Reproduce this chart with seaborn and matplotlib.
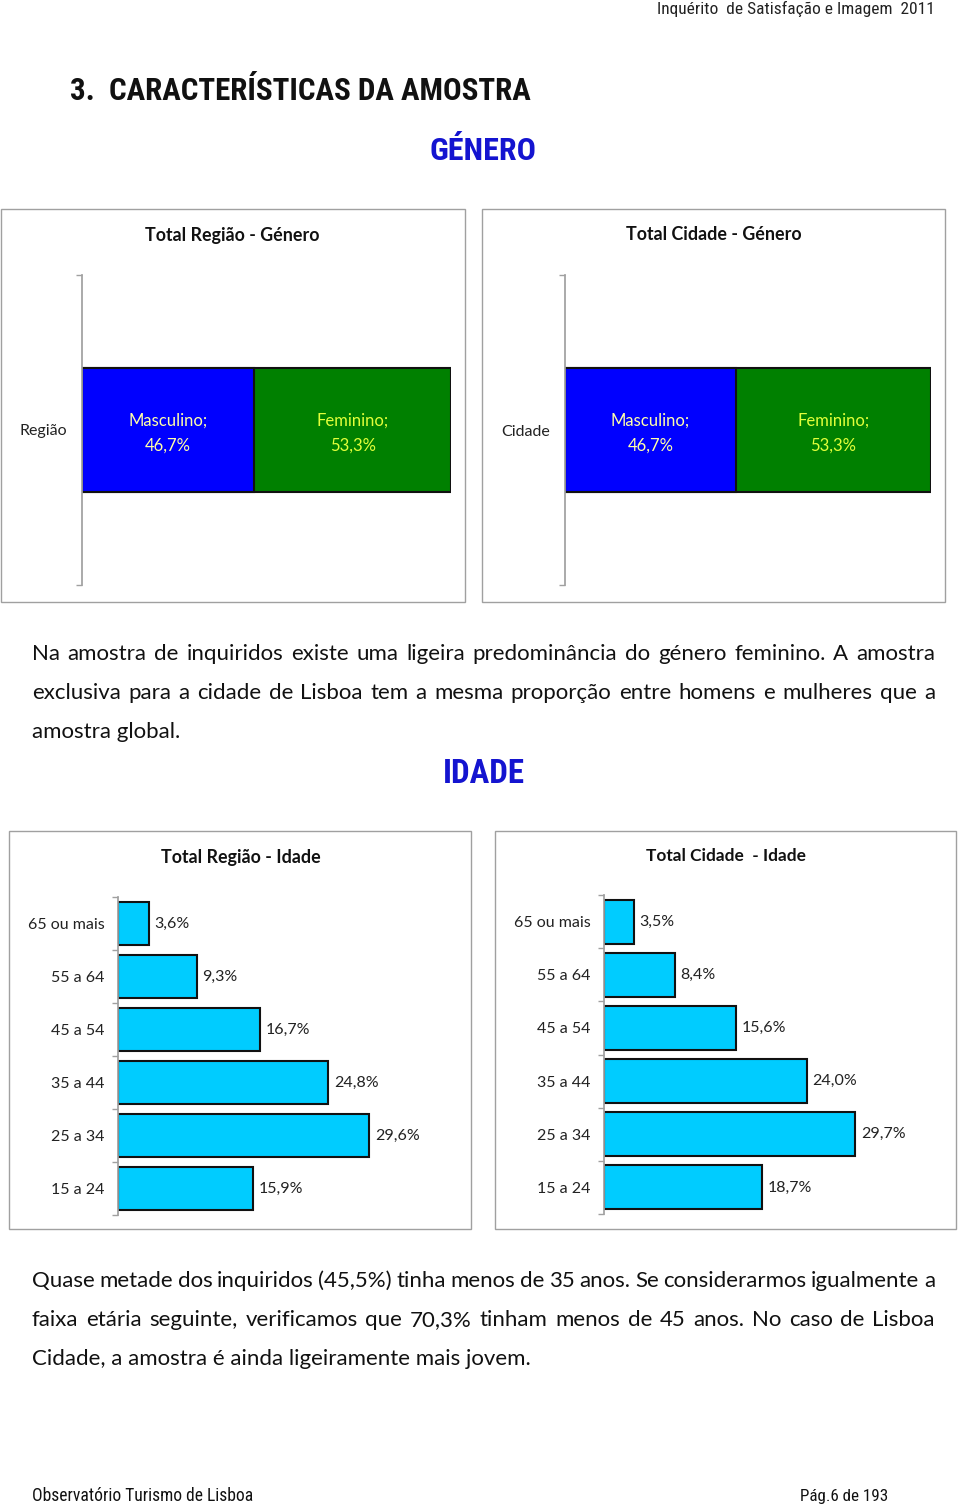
import matplotlib
matplotlib.use("Agg")
import matplotlib.pyplot as plt
from matplotlib import font_manager
from matplotlib.patches import Rectangle
import seaborn as sns

# ---------------- data ----------------
gender_groups = ["Masculino", "Feminino"]
gender_regiao = [46.7, 53.3]
gender_cidade = [46.7, 53.3]
age_groups = ["65 ou mais", "55 a 64", "45 a 54", "35 a 44", "25 a 34", "15 a 24"]
age_regiao = [3.6, 9.3, 16.7, 24.8, 29.6, 15.9]
age_cidade = [3.5, 8.4, 15.6, 24.0, 29.7, 18.7]

para1 = [
    "Na amostra de inquiridos existe uma ligeira predominância do género feminino. A amostra",
    "exclusiva para a cidade de Lisboa tem a mesma proporção entre homens e mulheres que a",
    "amostra global.",
]
para2 = [
    "Quase metade dos inquiridos (45,5%) tinha menos de 35 anos. Se considerarmos igualmente a",
    "faixa etária seguinte, verificamos que 70,3% tinham menos de 45 anos. No caso de Lisboa",
    "Cidade, a amostra é ainda ligeiramente mais jovem.",
]

# ---------------- style ----------------
sns.set_theme(style="white")


def has_font(name):
    try:
        font_manager.findfont(font_manager.FontProperties(family=name),
                              fallback_to_default=False)
        return True
    except Exception:
        return False


BODY = "Lato" if has_font("Lato") else "DejaVu Sans"

# try to find a condensed face for the narrow headings
NARROW, NSTRETCH = BODY, "normal"
for fam, stretch in [("Roboto Condensed", "normal"), ("Liberation Sans Narrow", "normal"),
                     ("Open Sans Condensed", "normal"), ("Noto Sans", "condensed"),
                     ("Open Sans", "condensed"), ("DejaVu Sans", "condensed")]:
    try:
        f = font_manager.findfont(
            font_manager.FontProperties(family=fam, stretch=stretch, weight="bold"),
            fallback_to_default=False)
        if stretch == "normal" or "ondensed" in f or "arrow" in f:
            NARROW, NSTRETCH = fam, stretch
            break
    except Exception:
        pass

plt.rcParams["font.family"] = [BODY, "DejaVu Sans"]

W, H = 960, 1506
fig = plt.figure(figsize=(9.6, 15.06), dpi=100)
fig.patch.set_facecolor("white")
renderer = fig.canvas.get_renderer()
NKW = dict(family=[NARROW, "DejaVu Sans"], fontstretch=NSTRETCH)


def fx(x):
    return x / W


def fy(y):
    return 1 - y / H


def measure(s, **kw):
    t = fig.text(0, 0, s, **kw)
    w = t.get_window_extent(renderer=renderer).width
    t.remove()
    return w


def fit_text(x, y, s, width, ha="left", **kw):
    base = 20
    w = measure(s, fontsize=base, **kw)
    size = base * width / w
    return fig.text(fx(x), fy(y), s, fontsize=size, ha=ha, va="center", **kw)


def justify(lines, x0, x1, y0, dy, size, **kw):
    for i, line in enumerate(lines):
        y = y0 + i * dy
        if i == len(lines) - 1:
            fig.text(fx(x0), fy(y), line, fontsize=size, va="center", **kw)
            continue
        words = line.split()
        widths = [measure(w, fontsize=size, **kw) for w in words]
        gap = (x1 - x0 - sum(widths)) / (len(words) - 1)
        x = x0
        for w, wd in zip(words, widths):
            fig.text(fx(x), fy(y), w, fontsize=size, va="center", **kw)
            x += wd + gap


def box(x0, y0, x1, y1):
    fig.add_artist(Rectangle((fx(x0), fy(y1)), (x1 - x0) / W, (y1 - y0) / H,
                             transform=fig.transFigure, fill=False,
                             edgecolor="#a0a0a0", linewidth=1.0, zorder=0))


def pct(v):
    return f"{v:.1f}%".replace(".", ",")


def add_ax(x0, y0, x1, y1):
    ax = fig.add_axes([fx(x0), fy(y1), (x1 - x0) / W, (y1 - y0) / H])
    ax.patch.set_alpha(0)
    return ax


def style_cat_axis(ax, boundaries, pad):
    for s in ["top", "right", "bottom"]:
        ax.spines[s].set_visible(False)
    ax.spines["left"].set_color("#a0a0a0")
    ax.set_xticks([])
    ax.set_xlabel("")
    ax.set_ylabel("")
    ax.tick_params(axis="y", which="major", left=False, length=0, pad=pad,
                   labelsize=11.5, labelcolor="#222222")
    ax.set_yticks(boundaries, minor=True)
    ax.tick_params(axis="y", which="minor", left=True, length=4,
                   color="#a0a0a0", width=1)


def gender_chart(rect, label, values):
    ax = add_ax(*rect)
    total = sum(values)
    sns.barplot(x=[total], y=[label], orient="h", color="#008000", saturation=1,
                width=0.4, edgecolor="#111111", linewidth=1.5, ax=ax)
    sns.barplot(x=[values[0]], y=[label], orient="h", color="#0000FF", saturation=1,
                width=0.4, edgecolor="#111111", linewidth=1.5, ax=ax)
    ax.set_xlim(0, 100)
    ax.set_ylim(0.5, -0.5)
    style_cat_axis(ax, [-0.5, 0.5], 11)
    cum = 0
    for name, v, col in zip(gender_groups, values, ["#FFFFA8", "#E2FF3A"]):
        ax.text(cum + v / 2, 0.01, f"{name};\n{pct(v)}", ha="center", va="center",
                color=col, fontsize=12, linespacing=1.75)
        cum += v
    return ax


def age_chart(rect, values):
    ax = add_ax(*rect)
    sns.barplot(x=values, y=age_groups, orient="h", color="#00CCFF", saturation=1,
                width=0.83, edgecolor="#111111", linewidth=1.5, ax=ax)
    ax.set_xlim(0, 35)
    ax.set_ylim(5.5, -0.5)
    style_cat_axis(ax, [i - 0.5 for i in range(len(age_groups) + 1)], 9.5)
    ax.bar_label(ax.containers[0], labels=[pct(v) for v in values], padding=4,
                 fontsize=11.5, color="#222222")
    return ax


# ---------------- page text ----------------
fit_text(935, 9, "Inquérito  de Satisfação e Imagem  2011", 277, ha="right",
         color="#222222", **NKW)
fit_text(70, 91, "3.  CARACTERÍSTICAS DA AMOSTRA", 462, ha="left",
         fontweight="bold", color="#111111", **NKW)
fit_text(483, 151, "GÉNERO", 107, ha="center",
         fontweight="bold", color="#1414D0", **NKW)

# ---------------- gender charts ----------------
box(1, 209, 465, 602)
box(482, 209, 945, 602)
fit_text(232, 235, "Total Região - Género", 174, ha="center", fontweight="bold",
         color="#111111")
fit_text(714, 235, "Total Cidade - Género", 175, ha="center", fontweight="bold",
         color="#111111")
gender_chart((82, 275, 451, 585), "Região", gender_regiao)
gender_chart((565, 275, 931, 585), "Cidade", gender_cidade)

justify(para1, 32, 935, 654, 39, 16, color="#111111")

fit_text(484, 774, "IDADE", 82, ha="center",
         fontweight="bold", color="#1414D0", **NKW)

# ---------------- age charts ----------------
box(9, 831, 471, 1229)
box(495, 831, 956, 1229)
fit_text(241, 857, "Total Região - Idade", 160, ha="center", fontweight="bold",
         color="#111111")
fit_text(726, 856, "Total Cidade  - Idade", 159, ha="center", fontweight="bold",
         color="#111111")
age_chart((118, 897, 415, 1215), age_regiao)
age_chart((604, 895, 900, 1214), age_cidade)

justify(para2, 32, 935, 1281, 39, 16, color="#111111")

# ---------------- footer ----------------
fit_text(32, 1496, "Observatório Turismo de Lisboa", 221, ha="left",
         color="#111111", **NKW)
fit_text(800, 1496, "Pág.6 de 193", 88, ha="left",
         color="#111111", **NKW)

fig.savefig("out.png", dpi=100, facecolor="white")
